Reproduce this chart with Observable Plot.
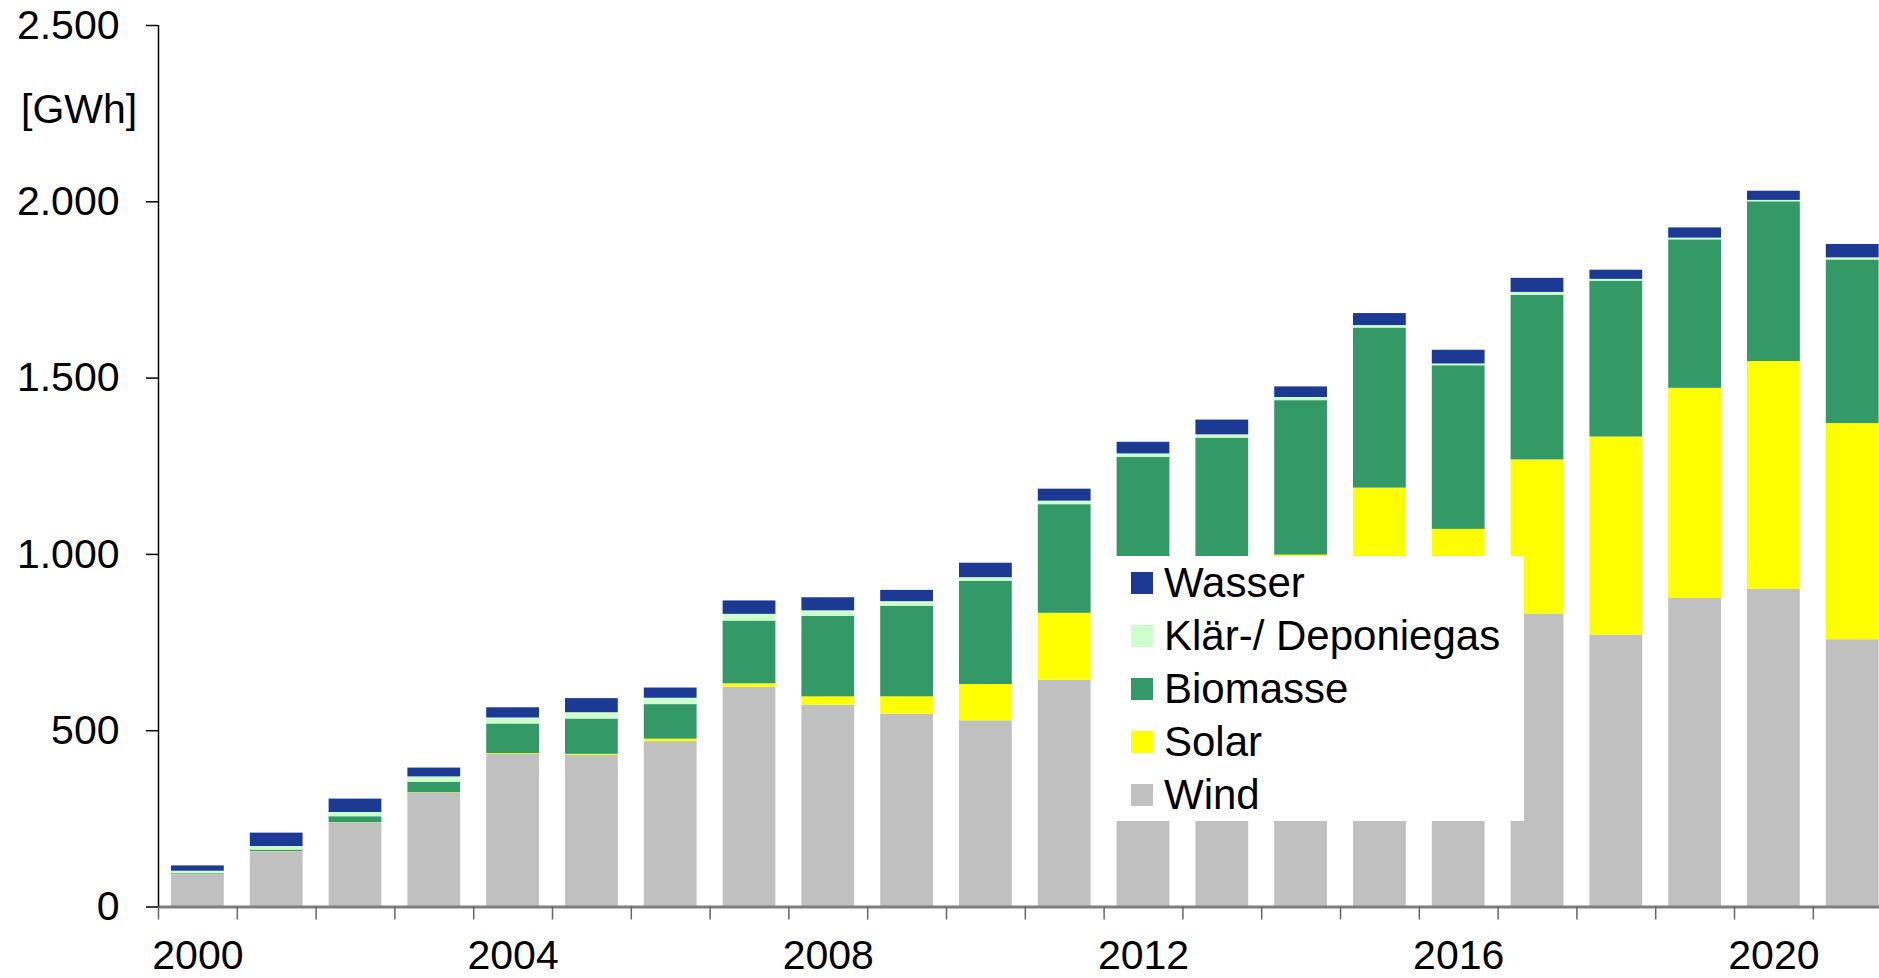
<!DOCTYPE html>
<html>
<head>
<meta charset="utf-8">
<script src="https://cdn.jsdelivr.net/npm/d3@7"></script>
<script src="https://cdn.jsdelivr.net/npm/@observablehq/plot@0.6"></script>
<style>
  html, body { margin: 0; padding: 0; background: white; }
  #wrap { position: relative; width: 1879px; height: 978px; overflow: hidden; font-family: "Liberation Sans", Arial, sans-serif; }
  #unit { position: absolute; left: 21px; top: 89px; font-size: 41px; line-height: 41px; color: #000; }
  #legend { position: absolute; left: 1096px; top: 556px; width: 428px; height: 265px; background: white; }
  .row { height: 53px; display: flex; align-items: center; }
  .sw { width: 22px; height: 22px; margin-left: 35px; margin-right: 11px; flex: none; }
  .lt { font-size: 42px; line-height: 42px; color: #000; white-space: nowrap; }
</style>
</head>
<body>
<div id="wrap">
  <div id="chart"></div>
  <div id="unit">[GWh]</div>
  <div id="legend"></div>
</div>
<script>
const years = [2000,2001,2002,2003,2004,2005,2006,2007,2008,2009,2010,2011,2012,2013,2014,2015,2016,2017,2018,2019,2020,2021];
const wind   = [92,157,238,323,433,430,469,623,572,547,528,643,645,640,688,848,711,831,771,875,901,758];
const solar  = [0.5,0.5,1,1,2,3,7,10,24,49,103,190,270,290,310,340,360,437,562,596,646,613];
const biomasse = [2,4,17,30,84,100,98,178,228,257,293,308,360,400,438,454,464,467,442,421,453,464];
const klaer  = [7,10,12,15,17,18,18,19,16,13,10,10,10,9,9,7,5,8,5,5,4,6];
const wasser = [15,38,38,25,29,40,29,38,37,32,41,34,33,42,30,34,39,40,26,29,26,38];

const sources = ["Wind", "Solar", "Biomasse", "Klär-/ Deponiegas", "Wasser"];
const colors  = ["#c0c0c0", "#ffff00", "#339966", "#ccffcc", "#1c3a94"];
const seriesValues = [wind, solar, biomasse, klaer, wasser];
const yTicks = [0, 500, 1000, 1500, 2000, 2500];
const xLabelYears = [2000, 2004, 2008, 2012, 2016, 2020];

const data = sources.flatMap((s, i) => years.map((y, j) => ({year: y, source: s, value: seriesValues[i][j]})));

const de = d3.formatLocale({decimal: ",", thousands: ".", grouping: [3], currency: ["", "€"]});
const fmt = de.format(",");

const chart = Plot.plot({
  width: 1879,
  height: 978,
  marginLeft: 158,
  marginRight: 0,
  marginTop: 25,
  marginBottom: 71.5,
  style: {fontFamily: "Liberation Sans, Arial, sans-serif", fontSize: "41px", color: "#000", background: "white"},
  x: {type: "linear", domain: [2000, 2021.84]},
  y: {domain: [0, 2500]},
  color: {domain: sources, range: colors},
  marks: [
    Plot.rectY(data, {
      x1: "year",
      x2: d => d.year + 1,
      y: "value",
      fill: "source",
      order: sources,
      insetLeft: 13,
      insetRight: 13
    }),
    Plot.ruleY([0], {stroke: "#7f7f7f", strokeWidth: 3}),
    Plot.ruleX([2000], {stroke: "#000", strokeWidth: 1.5}),
    Plot.axisY({ticks: yTicks, tickSize: 12, tickPadding: 27, tickFormat: fmt, label: null, stroke: "#000", strokeWidth: 1.5}),
    Plot.axisX({ticks: years, tickSize: 13, tickFormat: () => "", label: null, stroke: "#666", strokeWidth: 1.5}),
    Plot.axisX({ticks: xLabelYears.map(y => y + 0.5), tickSize: 0, tickPadding: 33, tickFormat: d => String(Math.floor(d)), label: null})
  ]
});
document.getElementById("chart").appendChild(chart);

const legend = document.getElementById("legend");
const legendOrder = ["Wasser", "Klär-/ Deponiegas", "Biomasse", "Solar", "Wind"];
for (const s of legendOrder) {
  const row = document.createElement("div");
  row.className = "row";
  const sw = document.createElement("div");
  sw.className = "sw";
  sw.style.background = colors[sources.indexOf(s)];
  const t = document.createElement("div");
  t.className = "lt";
  t.textContent = s;
  row.appendChild(sw);
  row.appendChild(t);
  legend.appendChild(row);
}
</script>
</body>
</html>
